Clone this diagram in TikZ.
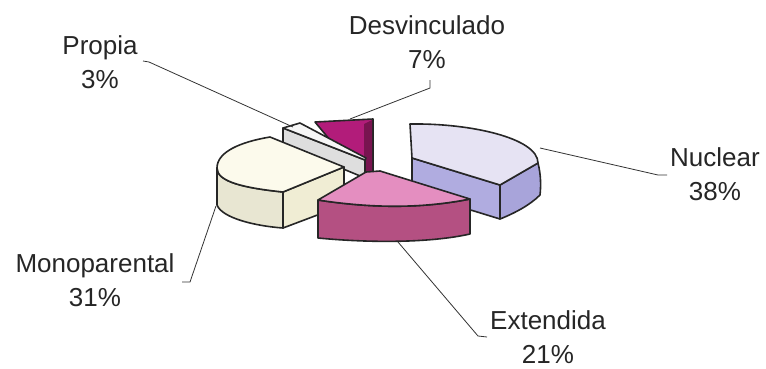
\documentclass[tikz,border=0pt]{standalone}
\usepackage{fontspec}
\setmainfont{Liberation Sans}
\begin{document}
\begin{tikzpicture}[x=1pt,y=-1pt,
  face/.style={draw=black!85,line width=1.6pt,line join=round},
  leader/.style={draw=black!80,line width=0.8pt},
  lbl/.style={align=center,anchor=north,inner sep=0pt,font=\fontsize{26}{34}\selectfont,text=black!85}]
\useasboundingbox[fill=white] (0,0) rectangle (766,368);
% Desvinculado
\path[face,fill={rgb,255:red,178;green,28;blue,122}] (315,122) -- (373,119) -- (373,176) -- (340,152) -- cycle;
\path[fill={rgb,255:red,120;green,20;blue,80}] (364,124) -- (372,120) -- (372,175) -- (364,170) -- cycle;
% Propia
\path[face,fill={rgb,255:red,222;green,222;blue,222}] (283,128) -- (365,160) -- (365,178) -- (283,144) -- cycle;
\path[face,fill={rgb,255:red,246;green,246;blue,246}] (283,128) -- (300,123) -- (366,158) -- (365,160) -- cycle;
% Monoparental
\path[face,fill={rgb,255:red,232;green,230;blue,210}] (217,168) -- (217,205) .. controls (222,218) and (255,226) .. (283,228) -- (283,192) .. controls (245,188) and (217,182) .. (217,168) -- cycle;
\path[face,fill={rgb,255:red,240;green,237;blue,212}] (283,192) -- (344,167) -- (344,205) -- (283,228) -- cycle;
\path[face,fill={rgb,255:red,252;green,250;blue,236}] (283,192) .. controls (245,188) and (217,182) .. (217,168) .. controls (217,152) and (240,142) .. (270,137) -- (344,167) -- cycle;
% Nuclear
\path[face,fill={rgb,255:red,176;green,172;blue,224}] (412,158) -- (500,185) -- (500,219) -- (412,192) -- cycle;
\path[face,fill={rgb,255:red,168;green,164;blue,218}] (500,185) -- (538,163) .. controls (541,175) and (541,186) .. (540,195) .. controls (530,205) and (515,213) .. (500,219) -- cycle;
\path[face,fill={rgb,255:red,230;green,227;blue,243}] (410,124) .. controls (470,123) and (538,138) .. (538,163) -- (500,185) -- (412,158) -- cycle;
% Extendida
\path[face,fill={rgb,255:red,180;green,80;blue,130}] (318,200) .. controls (370,208) and (420,209) .. (470,199) -- (470,234) .. controls (430,243) and (370,243) .. (318,238) -- cycle;
\path[face,fill={rgb,255:red,228;green,142;blue,192}] (318,200) -- (366,172) -- (380,171) -- (470,199) .. controls (420,209) and (370,208) .. (318,200) -- cycle;
% labels
\node[lbl] (desv) at (427,15) {Desvinculado\\7\%};
\node[lbl] (propia) at (100,35) {Propia\\3\%};
\node[lbl] (nuclear) at (715,147) {Nuclear\\38\%};
\node[lbl] (mono) at (95,253) {Monoparental\\31\%};
\node[lbl] (ext) at (548,310) {Extendida\\21\%};
% leader anchors
\coordinate (desvL) at (430,80);
\coordinate (desvP) at (350,119);
\coordinate (propiaL) at (143,61);
\coordinate (propiaP) at (293,127);
\coordinate (nucL) at (667,175);
\coordinate (nucP) at (540,148);
\coordinate (monoL) at (182,282);
\coordinate (monoP) at (216,206);
\coordinate (extL) at (487,337);
\coordinate (extP) at (398,242);
\draw[leader] (desvL) -- ++(0,8) -- (desvP);
\draw[leader] (propiaL) -- ++(6,1) -- (propiaP);
\draw[leader] (nucL) -- ++(-9,0) -- (nucP);
\draw[leader] (monoL) -- ++(8,0) -- (monoP);
\draw[leader] (extL) -- ++(-9,-1) -- (extP);
\end{tikzpicture}
\end{document}
